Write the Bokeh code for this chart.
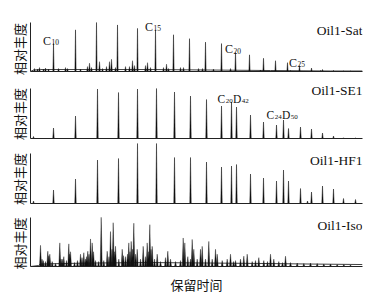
import numpy as np
from bokeh.plotting import figure
from bokeh.layouts import column
from bokeh.models import Range1d, FixedTicker, Title
from bokeh.embed import file_html
from bokeh.resources import INLINE
from bokeh.core.properties import value

# ---------------- data (retention position in scan units, relative abundance) ----------
sat_cn = [10, 11, 12, 13, 14, 15, 16, 17, 18, 19, 20, 21, 22, 23, 24, 25, 26, 27, 28, 29]
sat_rt = [23, 45, 66, 87, 107, 125, 143, 159, 175, 191, 205, 219, 233, 245, 257, 269, 281, 292, 303, 313]
sat_h = [0.57, 0.85, 1.0, 0.95, 0.88, 0.85, 0.75, 0.67, 0.60, 0.57, 0.39, 0.34, 0.27, 0.22,
         0.18, 0.12, 0.07, 0.04, 0.02, 0.01]
sat_minor_rt = [4, 7, 9, 13, 15, 18, 28, 35, 37, 50, 57, 59, 61, 69, 72, 76, 79, 81, 85, 95,
                99, 102, 104, 115, 117, 120, 133, 136, 138, 150, 153, 168, 172, 183, 200, 230,
                260, 290, 320]
sat_minor_h = [0.06, 0.05, 0.08, 0.05, 0.07, 0.05, 0.06, 0.08, 0.06, 0.05, 0.10, 0.17, 0.08,
               0.20, 0.06, 0.10, 0.20, 0.25, 0.08, 0.10, 0.10, 0.22, 0.12, 0.12, 0.18, 0.08,
               0.08, 0.15, 0.06, 0.08, 0.08, 0.06, 0.06, 0.05, 0.06, 0.03, 0.02, 0.02, 0.01]
sat_base_rt = [0, 3, 10, 60, 120, 180, 240, 300, 332]
sat_base_h = [0.0, 0.03, 0.04, 0.04, 0.04, 0.03, 0.02, 0.01, 0.01]
sat_label_cn = [10, 15, 20, 25]

se1_rt = [3, 23, 45, 67, 88, 107, 126, 144, 160, 176, 191, 201, 206, 220, 233, 246, 253,
          258, 270, 281, 292, 303, 313, 325]
se1_h = [0.04, 0.21, 0.45, 0.99, 0.92, 0.99, 1.0, 0.93, 0.85, 0.78, 0.65, 0.73, 0.63, 0.47,
         0.33, 0.27, 0.37, 0.20, 0.23, 0.19, 0.11, 0.05, 0.015, 0.01]

hf1_rt = [3, 23, 45, 67, 88, 107, 126, 144, 160, 176, 191, 201, 206, 220, 233, 246, 253,
          258, 270, 277, 281, 292, 303, 313, 325]
hf1_h = [0.05, 0.27, 0.49, 0.87, 0.90, 1.2, 1.2, 0.92, 0.92, 0.83, 0.73, 0.75, 0.78, 0.59,
         0.51, 0.45, 0.67, 0.45, 0.30, 0.05, 0.23, 0.35, 0.29, 0.10, 0.08]

iso_rt = [10, 11.5, 12.7, 15, 17.3, 18.3, 19.3, 21.7, 25, 29.3, 30.5, 31.7, 33.3, 36, 38.3,
          39, 40, 44, 47, 50, 51.5, 53.3, 55, 56, 57.3, 58.5, 60, 61.7, 63, 65, 68, 70.7,
          73.3, 76.7, 78.5, 80, 81.5, 82.7, 84, 85, 88.3, 91.7, 93, 95, 97, 98.3, 99.5, 100.7,
          102, 103.3, 105, 106.7, 110, 112.7, 115, 116.7, 118, 119.3, 120.5, 121.7, 124,
          126.7, 130, 135, 137.3, 140, 145, 150, 152.7, 154.3, 157.3, 160, 161.7, 163.3, 166.7,
          170, 171.7, 175, 178.3, 181.7, 185, 186.7, 191.7, 196.7, 200, 203, 205, 210, 213.3,
          216.7, 221.7, 225, 228.3, 233.3, 237, 240, 243.3, 248.3, 252, 255, 260, 266.7,
          273.3, 280, 286.7, 293.3, 300, 306.7, 313.3, 320]
iso_h = [0.43, 0.15, 0.12, 0.10, 0.31, 0.22, 0.25, 0.10, 0.06, 0.48, 0.15, 0.15, 0.20, 0.12,
         0.46, 0.25, 0.30, 0.08, 0.12, 0.25, 0.18, 0.28, 0.15, 0.20, 0.31, 0.25, 0.56, 0.48,
         0.30, 0.12, 0.10, 1.0, 0.12, 0.31, 0.20, 0.71, 0.35, 0.89, 0.30, 0.41, 0.15, 0.35,
         0.22, 0.20, 0.25, 0.48, 0.30, 0.51, 0.35, 0.88, 0.25, 0.35, 0.15, 0.41, 0.20, 0.48,
         0.30, 0.85, 0.35, 0.41, 0.15, 0.25, 0.10, 0.18, 0.31, 0.15, 0.10, 0.12, 0.58, 0.48,
         0.20, 0.15, 0.55, 0.35, 0.15, 0.35, 0.41, 0.15, 0.51, 0.15, 0.35, 0.25, 0.12, 0.15,
         0.25, 0.10, 0.12, 0.15, 0.21, 0.25, 0.10, 0.12, 0.18, 0.12, 0.10, 0.25, 0.15, 0.10,
         0.08, 0.21, 0.08, 0.07, 0.06, 0.07, 0.06, 0.05, 0.05, 0.04, 0.04, 0.03]
iso_base_rt = [0, 8, 10, 30, 60, 120, 180, 240, 280, 332]
iso_base_h = [0.0, 0.02, 0.05, 0.06, 0.07, 0.08, 0.07, 0.06, 0.05, 0.04]

panel_names = ["Oil1-Sat", "Oil1-SE1", "Oil1-HF1", "Oil1-Iso"]
y_title = "相对丰度"
x_title = "保留时间"

SERIF = "Liberation Serif"
CJK = "Noto Sans CJK SC"
INK = "#111111"


def make_panel(height, bt, bb, s, ylab_drop):
    frame_h = height - bt - bb
    p = figure(width=377, height=height, x_range=Range1d(0, 332),
               y_range=Range1d(0, frame_h / s), output_backend="svg",
               toolbar_location=None, min_border_left=30, min_border_right=15,
               min_border_top=bt, min_border_bottom=bb)
    p.outline_line_color = None
    p.grid.visible = False
    p.background_fill_color = "white"
    p.border_fill_color = "white"
    for ax in (p.xaxis[0], p.yaxis[0]):
        ax.ticker = FixedTicker(ticks=[])
        ax.major_tick_out = 0
        ax.major_tick_in = 0
        ax.minor_tick_out = 0
        ax.minor_tick_in = 0
        ax.major_label_standoff = 0
        ax.axis_line_color = "#222222"
        ax.axis_line_width = 1
    p.yaxis[0].bounds = (0, 1)
    # text starts at the frame bottom (reads upwards); offset pushes it slightly below
    p.add_layout(Title(text=y_title, align="left", offset=-ylab_drop, standoff=4,
                       text_font=CJK, text_font_size="13px", text_font_style="normal",
                       text_color=INK), "left")
    return p


def spikes(p, rt, h, w, lw=0.5, color=INK):
    xs = [[r - w, r, r + w] for r in rt]
    ys = [[0, v, 0] for v in h]
    p.patches(xs, ys, fill_color=color, line_color=color, line_width=lw)


def name_label(p, text, y):
    p.text(x=[332], y=[y], text=[text], text_align="right", text_baseline="middle",
           text_font=value(SERIF), text_font_size="13.5px", text_color=INK)


def formula(p, x, y, parts, dx0, dy, size=12, sub=7.5):
    dx = dx0
    for t, is_sub in parts:
        fs = sub if is_sub else size
        p.text(x=[x], y=[y], text=[t], text_align="left", text_baseline="alphabetic",
               x_offset=dx, y_offset=(dy + 1.5) if is_sub else dy,
               text_font=value(SERIF), text_font_size=f"{fs}px", text_color=INK)
        w = 0.5 * len(t) if t[0].isdigit() else (0.722 if t == "D" else 0.667)
        dx += w * fs + (0.5 if not is_sub else 0.3)


# ---------------- panel 1: saturates ----------------
p1 = make_panel(75, 3, 4, 49, 3.5)
p1.line(sat_base_rt, sat_base_h, line_color=INK, line_width=0.8)
spikes(p1, sat_minor_rt, sat_minor_h, 0.8, lw=0.4)
spikes(p1, sat_rt, sat_h, 0.6, lw=0.5)
for cn in sat_label_cn:
    i = sat_cn.index(cn)
    formula(p1, sat_rt[i], sat_h[i], [("C", False), (str(cn), True)], -10.5, -3)
name_label(p1, panel_names[0], 0.84)

# ---------------- panel 2: SE1 ----------------
p2 = make_panel(65, 2, 2, 50, 1.5)
spikes(p2, se1_rt, se1_h, 0.7, lw=0.5)
i = se1_rt.index(201)
formula(p2, se1_rt[i], se1_h[i], [("C", False), ("20", True), ("D", False), ("42", True)],
        -14, -3, size=11.5, sub=7)
i = se1_rt.index(253)
formula(p2, se1_rt[i], se1_h[i], [("C", False), ("24", True), ("D", False), ("50", True)],
        -17, -5, size=11.5, sub=7)
name_label(p2, panel_names[1], 0.96)

# ---------------- panel 3: HF1 ----------------
p3 = make_panel(65, 1, 2, 50, 1.5)
spikes(p3, hf1_rt, hf1_h, 0.7, lw=0.5)
name_label(p3, panel_names[2], 0.86)

# ---------------- panel 4: Iso ----------------
p4 = make_panel(91, 2, 29, 50, 3)
p4.line(iso_base_rt, iso_base_h, line_color=INK, line_width=0.8)
spikes(p4, iso_rt, iso_h, 1.0, lw=0.4)
name_label(p4, panel_names[3], 0.84)
p4.xaxis[0].axis_label = x_title
p4.xaxis[0].axis_label_standoff = 8
p4.xaxis[0].axis_label_text_font = CJK
p4.xaxis[0].axis_label_text_font_size = "13px"
p4.xaxis[0].axis_label_text_font_style = "normal"
p4.xaxis[0].axis_label_text_color = INK

layout = column(p1, p2, p3, p4, spacing=0)
open("out.html", "w").write(file_html(layout, INLINE))
